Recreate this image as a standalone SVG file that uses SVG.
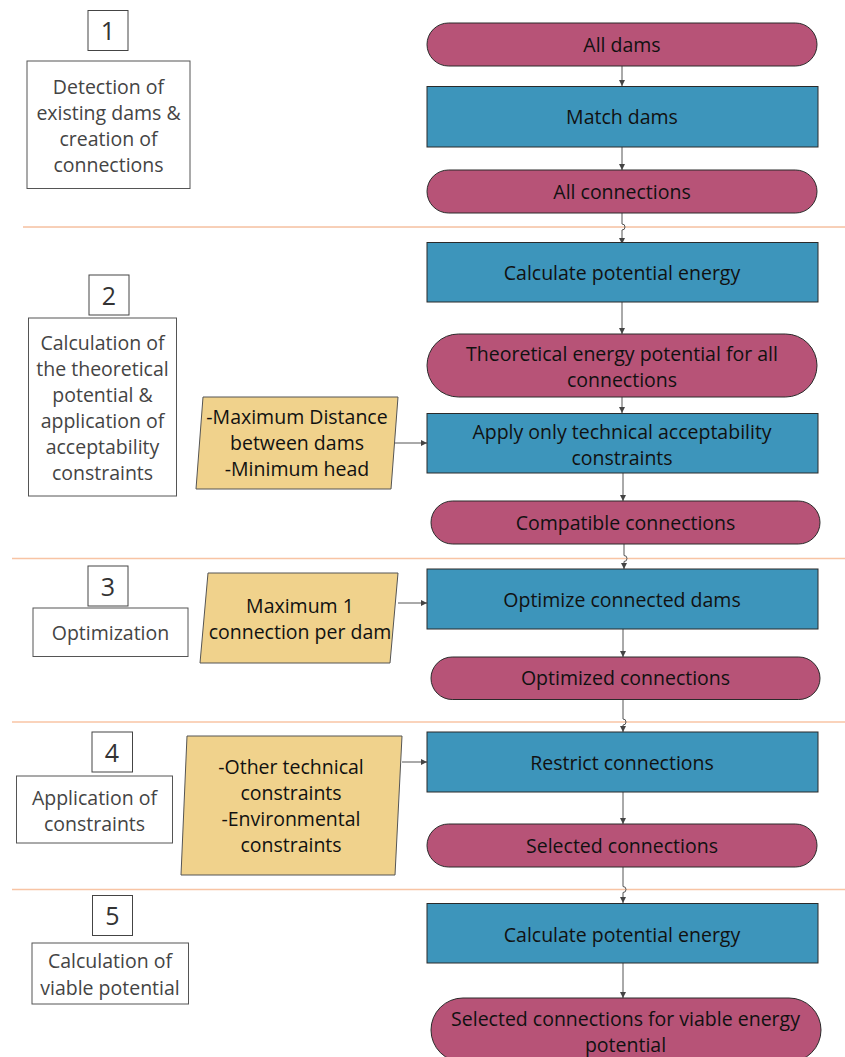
<svg xmlns="http://www.w3.org/2000/svg" width="845" height="1057" viewBox="0 0 845 1057">
<defs>
<marker id="ah" viewBox="0 0 6 6" refX="6" refY="3" markerWidth="6" markerHeight="6" markerUnits="userSpaceOnUse" orient="auto">
<path d="M0,0 L6,3 L0,6 z" fill="#444"/>
</marker>
<style>
.pill{fill:#b75377;stroke:#2a2a2a;stroke-width:1}
.proc{fill:#3d95bb;stroke:#2a2a2a;stroke-width:1}
.par{fill:#f0d28c;stroke:#555;stroke-width:1}
.lbl{fill:#fff;stroke:#555;stroke-width:1}
.num{fill:#fff;stroke:#444;stroke-width:1}
.sep{stroke:#f8c4a4;stroke-width:1.5;fill:none}
.sep1{stroke:#f0a070;stroke-width:1;fill:none}
text{font-family:"Open Sans","Noto Sans","Liberation Sans",sans-serif;font-size:19.5px;text-anchor:middle}
.t{fill:#111}
.lt{fill:#444}
.nt{fill:#333;font-size:25px}
.c{stroke:#555;stroke-width:1;fill:none;marker-end:url(#ah)}
</style>
</defs>
<rect width="845" height="1057" fill="#fff"/>

<g id="separators">
<line class="sep1" x1="23" y1="227" x2="845" y2="227"/>
<line class="sep" x1="12" y1="558.5" x2="845" y2="558.5"/>
<line class="sep" x1="12" y1="722" x2="845" y2="722"/>
<line class="sep" x1="12" y1="889.5" x2="845" y2="889.5"/>
</g>

<g id="connectors">
<path class="c" d="M622,66 V86"/>
<path class="c" d="M622,147 V170"/>
<path class="c" d="M622,213 V224 a3,3 0 0 1 0,6 V244"/>
<path class="c" d="M622,302 V334"/>
<path class="c" d="M622,397 V413"/>
<path class="c" d="M623,473 V501"/>
<path class="c" d="M624,543 V555.5 a3,3 0 0 1 0,6 V569"/>
<path class="c" d="M623,629 V657"/>
<path class="c" d="M623,699 V719 a3,3 0 0 1 0,6 V732"/>
<path class="c" d="M623,792 V824"/>
<path class="c" d="M623,867 V886.5 a3,3 0 0 1 0,6 V903"/>
<path class="c" d="M623,963 V998"/>
<path class="c" d="M391,443 H427"/>
<path class="c" d="M398,603 H427"/>
<path class="c" d="M402,762 H427"/>
</g>

<g id="step1-num"><rect class="num" x="88" y="10.5" width="40" height="40"/><text class="nt" x="108" y="40">1</text></g>
<g id="step1-label"><rect class="lbl" x="27" y="61" width="163" height="127.5"/>
<text class="lt" x="108.5" y="94">Detection of</text>
<text class="lt" x="108.5" y="120">existing dams &amp;</text>
<text class="lt" x="108.5" y="146">creation of</text>
<text class="lt" x="108.5" y="172">connections</text></g>

<g id="step2-num"><rect class="num" x="89" y="275" width="40" height="40"/><text class="nt" x="109" y="304.5">2</text></g>
<g id="step2-label"><rect class="lbl" x="28.5" y="318" width="148" height="178"/>
<text class="lt" x="102.5" y="350">Calculation of</text>
<text class="lt" x="102.5" y="376">the theoretical</text>
<text class="lt" x="102.5" y="402">potential &amp;</text>
<text class="lt" x="102.5" y="428">application of</text>
<text class="lt" x="102.5" y="454">acceptability</text>
<text class="lt" x="102.5" y="480">constraints</text></g>

<g id="step3-num"><rect class="num" x="88" y="566" width="40" height="40"/><text class="nt" x="108" y="595.5">3</text></g>
<g id="step3-label"><rect class="lbl" x="33" y="608" width="155" height="48.5"/>
<text class="lt" x="110.5" y="640">Optimization</text></g>

<g id="step4-num"><rect class="num" x="92" y="732" width="40.5" height="40"/><text class="nt" x="112" y="761.5">4</text></g>
<g id="step4-label"><rect class="lbl" x="16.5" y="776" width="156" height="67"/>
<text class="lt" x="94.5" y="805">Application of</text>
<text class="lt" x="94.5" y="831">constraints</text></g>

<g id="step5-num"><rect class="num" x="92.5" y="895.5" width="40" height="40"/><text class="nt" x="112.5" y="924.5">5</text></g>
<g id="step5-label"><rect class="lbl" x="32" y="943" width="156.5" height="61"/>
<text class="lt" x="110" y="968">Calculation of</text>
<text class="lt" x="110" y="995">viable potential</text></g>

<g id="all-dams"><rect class="pill" x="427" y="23" width="390" height="43" rx="21.5"/><text class="t" x="622" y="52">All dams</text></g>
<g id="match-dams"><rect class="proc" x="427" y="86.5" width="391" height="60.5"/><text class="t" x="622" y="124">Match dams</text></g>
<g id="all-connections"><rect class="pill" x="427" y="170" width="390" height="43" rx="21.5"/><text class="t" x="622" y="199">All connections</text></g>

<g id="calc-potential-1"><rect class="proc" x="427" y="242.5" width="391" height="59.5"/><text class="t" x="622" y="280">Calculate potential energy</text></g>
<g id="theoretical"><rect class="pill" x="427" y="334" width="390" height="63" rx="31.5"/>
<text class="t" x="622" y="361">Theoretical energy potential for all</text>
<text class="t" x="622" y="387">connections</text></g>
<g id="param2"><polygon class="par" points="203,397 398,397 391,489 196,489"/>
<text class="t" x="297" y="424">-Maximum Distance</text>
<text class="t" x="297" y="450">between dams</text>
<text class="t" x="297" y="476">-Minimum head</text></g>
<g id="apply"><rect class="proc" x="427" y="413.5" width="391" height="59.5"/>
<text class="t" x="622" y="439">Apply only technical acceptability</text>
<text class="t" x="622" y="465">constraints</text></g>
<g id="compatible"><rect class="pill" x="431" y="501" width="389" height="43" rx="21.5"/><text class="t" x="625.5" y="530">Compatible connections</text></g>

<g id="param3"><polygon class="par" points="208,573 398,573 390,663 200,663"/>
<text class="t" x="300" y="613">Maximum 1</text>
<text class="t" x="300" y="639">connection per dam</text></g>
<g id="optimize"><rect class="proc" x="427" y="569" width="391" height="60"/><text class="t" x="622" y="607">Optimize connected dams</text></g>
<g id="optimized"><rect class="pill" x="431" y="657" width="389" height="42.5" rx="21.25"/><text class="t" x="625.5" y="685">Optimized connections</text></g>

<g id="param4"><polygon class="par" points="187,736 402,736 395,875 181,875"/>
<text class="t" x="291" y="774">-Other technical</text>
<text class="t" x="291" y="800">constraints</text>
<text class="t" x="291" y="826">-Environmental</text>
<text class="t" x="291" y="852">constraints</text></g>
<g id="restrict"><rect class="proc" x="427" y="732" width="391" height="60"/><text class="t" x="622" y="770">Restrict connections</text></g>
<g id="selected"><rect class="pill" x="427" y="824" width="390" height="43" rx="21.5"/><text class="t" x="622" y="853">Selected connections</text></g>

<g id="calc-potential-2"><rect class="proc" x="427" y="903.5" width="391" height="59.5"/><text class="t" x="622" y="942">Calculate potential energy</text></g>
<g id="final"><rect class="pill" x="431" y="998" width="390" height="64" rx="32"/>
<text class="t" x="625.5" y="1026">Selected connections for viable energy</text>
<text class="t" x="625.5" y="1052">potential</text></g>
</svg>
